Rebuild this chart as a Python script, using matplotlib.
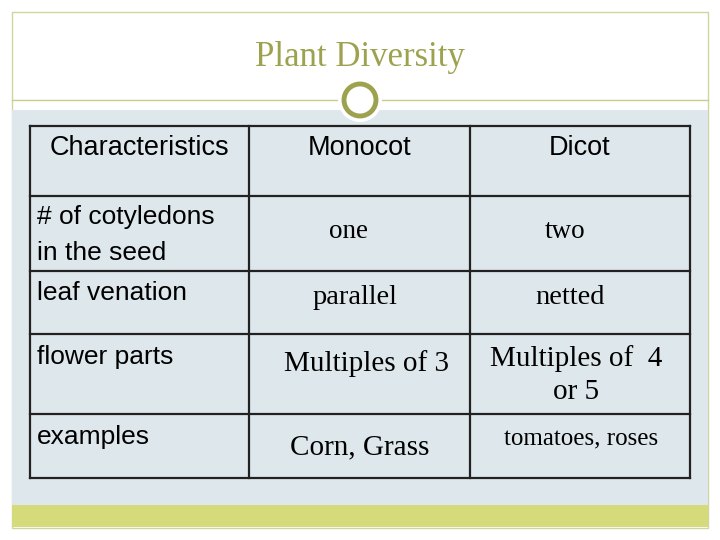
import matplotlib
matplotlib.use("Agg")
import matplotlib.pyplot as plt
from matplotlib.patches import Rectangle, Circle

title = "Plant Diversity"
headers = ["Characteristics", "Monocot", "Dicot"]
row_labels = ["# of cotyledons\nin the seed", "leaf venation", "flower parts", "examples"]
monocot = ["one", "parallel", "Multiples of 3", "Corn, Grass"]
dicot = ["two", "netted", "Multiples of  4\nor 5", "tomatoes, roses"]

olive = "#9ca24e"
fig = plt.figure(figsize=(7.2, 5.4), dpi=100)
ax = fig.add_axes([0, 0, 1, 1])
ax.set_xlim(0, 720); ax.set_ylim(540, 0); ax.axis("off")

ax.add_patch(Rectangle((12, 12), 696, 516, fill=False, ec="#d0d4a0", lw=1))
ax.add_patch(Rectangle((12, 110), 696, 395, fc="#dee7eb", ec="none"))
ax.add_patch(Rectangle((12, 505), 696, 22, fc="#d5da7a", ec="none"))
ax.plot([12, 708], [100, 100], color="#c8cc90", lw=1)
ax.add_patch(Circle((360, 100), 22, fc="white", ec="none", zorder=3))
ax.add_patch(Circle((360, 100), 16, fc="white", ec=olive, lw=3.5, zorder=4))
ax.text(360, 57, title, ha="center", va="center", fontsize=25, color=olive, family="Liberation Serif")

xs = [30, 249, 470, 690]
ys = [126, 196, 271, 334, 414, 478]
for x in xs:
    ax.plot([x, x], [ys[0], ys[-1]], color="#222222", lw=1.6)
for y in ys:
    ax.plot([xs[0], xs[-1]], [y, y], color="#222222", lw=1.6)

sans = "Liberation Sans"; serif = "Liberation Serif"
ax.text(139, 148, headers[0], ha="center", va="center", fontsize=19.5, family=sans)
ax.text(360, 148, headers[1], ha="center", va="center", fontsize=19.5, family=sans)
ax.text(580, 148, headers[2], ha="center", va="center", fontsize=19.5, family=sans)

label_y = [235, 293, 357, 437]
mono_pos = [(348, 232, 19.5), (355, 297, 20.5), (367, 364, 21), (360, 447, 21)]
dicot_pos = [(576, 232, 19.5), (570, 297, 20.5), (576, 375, 21), (581, 439, 18)]
dicot_pos[0] = (565, 232, 19.5)
for i in range(4):
    ax.text(37, label_y[i], row_labels[i], ha="left", va="center", fontsize=19, family=sans, linespacing=1.6)
    x, y, fs = mono_pos[i]
    ax.text(x, y, monocot[i], ha="center", va="center", fontsize=fs, family=serif)
    x, y, fs = dicot_pos[i]
    ax.text(x, y, dicot[i], ha="center", va="center", fontsize=fs, family=serif, linespacing=1.35)

fig.savefig("out.png", dpi=100)
